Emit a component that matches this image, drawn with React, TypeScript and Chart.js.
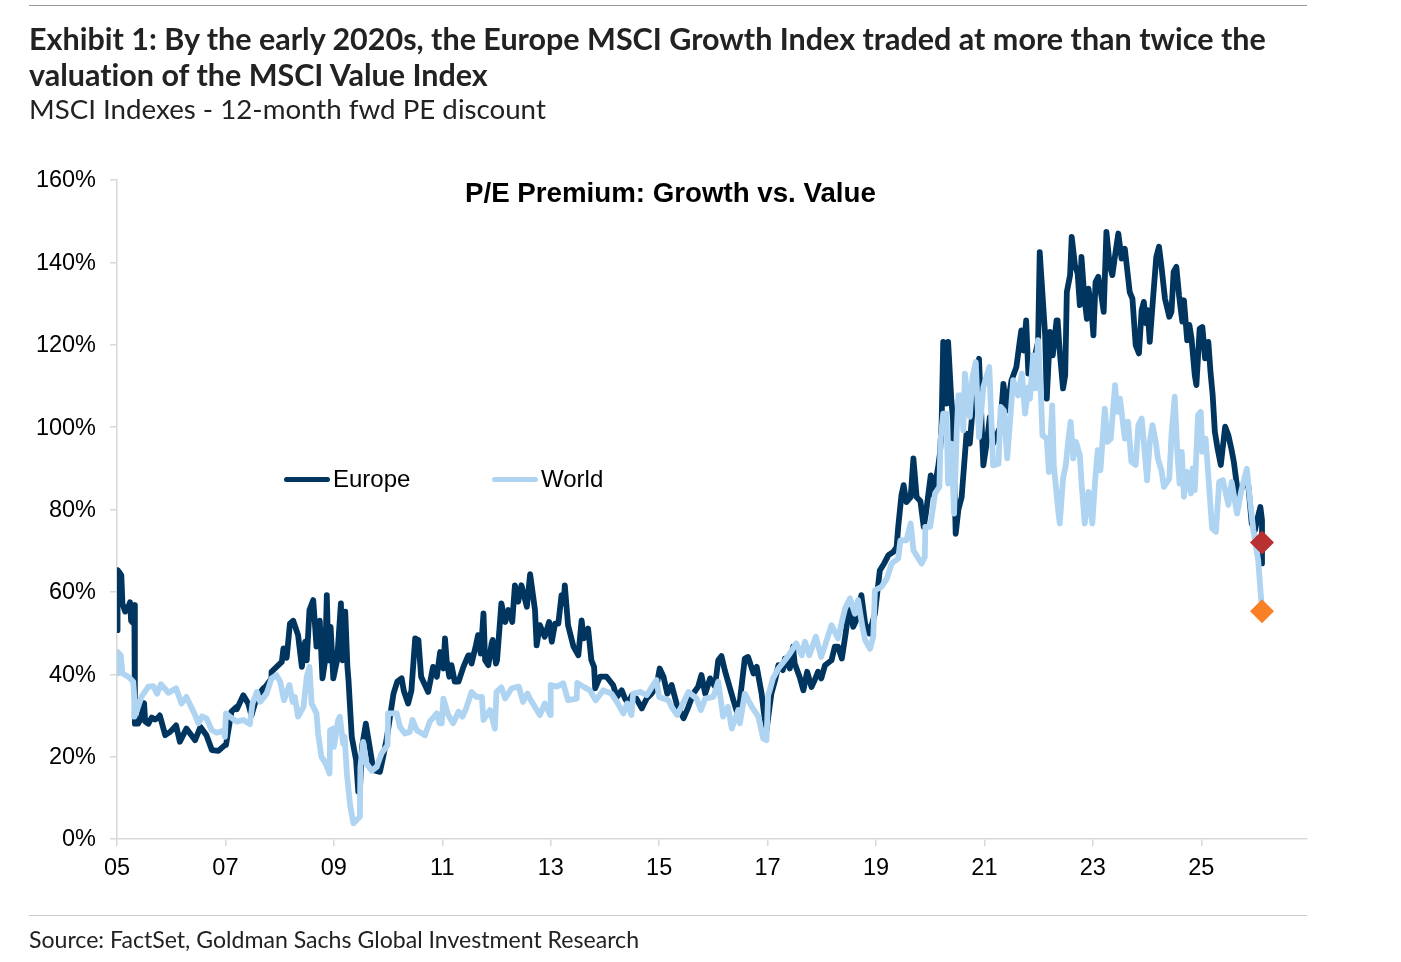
import { useEffect, useRef } from 'react';
import { Chart, registerables } from 'chart.js';

Chart.register(...registerables);

// x is in years since 2000, y is the premium in percent
const europeYears = [
  5.01, 5.01, 5.04, 5.08, 5.1, 5.15, 5.2, 5.24, 5.26, 5.29, 5.32, 5.33, 5.33, 5.39, 5.43, 5.47, 5.5, 5.52, 5.58, 5.64,
  5.7, 5.76, 5.79, 5.89, 5.98, 6.09, 6.16, 6.28, 6.44, 6.54, 6.65, 6.75, 6.87, 6.99, 7.01,
  7.11, 7.2, 7.21, 7.33, 7.42, 7.48, 7.58, 7.7, 7.74, 7.85, 7.85, 8.04, 8.07, 8.13, 8.19, 8.25, 8.34, 8.41, 8.47, 8.5, 8.55,
  8.62, 8.68, 8.74, 8.79, 8.84, 8.87, 8.9, 8.94, 8.99, 9.06, 9.13, 9.16, 9.21, 9.25, 9.27, 9.33, 9.41, 9.45, 9.48, 9.52,
  9.59, 9.64, 9.73, 9.85, 9.91, 9.97, 9.99, 10.1, 10.17, 10.25, 10.29, 10.37, 10.43, 10.5, 10.56, 10.61, 10.74, 10.83, 10.9,
  10.96, 11.02, 11.05, 11.08, 11.13, 11.17, 11.23, 11.3, 11.39, 11.48, 11.51, 11.54, 11.62, 11.66, 11.71, 11.76, 11.79, 11.85,
  11.91, 11.93, 11.99, 12.01, 12.09, 12.16, 12.22, 12.29, 12.34, 12.4, 12.46, 12.56, 12.62, 12.71, 12.74, 12.8, 12.89, 12.97,
  13.02, 13.08, 13.14, 13.2, 13.24, 13.26, 13.32, 13.42, 13.51, 13.57, 13.61, 13.69, 13.75, 13.8, 13.82, 13.91, 14.03, 14.15,
  14.22, 14.31, 14.37, 14.43, 14.5, 14.58, 14.68, 14.77, 14.86, 14.95, 15.01, 15.08, 15.15, 15.23, 15.33, 15.45, 15.54, 15.63,
  15.72, 15.78, 15.85, 15.94, 16.03, 16.09, 16.15, 16.21, 16.37, 16.46, 16.49, 16.58, 16.64, 16.74, 16.8, 16.89, 16.93, 16.98,
  17.07, 17.14, 17.2, 17.28, 17.32, 17.41, 17.47, 17.5, 17.6, 17.66, 17.73, 17.81, 17.87, 17.93, 17.99, 18.06, 18.18, 18.24,
  18.3, 18.37, 18.44, 18.51, 18.58, 18.65, 18.73, 18.8, 18.88, 18.92, 18.98, 19.07, 19.15, 19.23, 19.32, 19.38, 19.41, 19.47,
  19.51, 19.56, 19.64, 19.69, 19.75, 19.82, 19.88, 19.92, 20.01, 20.06, 20.15, 20.18, 20.21, 20.24, 20.3, 20.33, 20.39, 20.42,
  20.47, 20.52, 20.58, 20.67, 20.73, 20.76, 20.84, 20.9, 20.98, 21.04, 21.1, 21.16, 21.29, 21.35, 21.41, 21.5, 21.59, 21.65,
  21.68, 21.72, 21.77, 21.81,
  21.87, 21.99, 22.02, 22.12, 22.15, 22.18, 22.21, 22.26, 22.33, 22.35,
  22.39, 22.45, 22.49, 22.52, 22.58, 22.61, 22.67, 22.72, 22.76, 22.79,
  22.84, 22.89, 22.92, 22.98, 23.01, 23.05, 23.1, 23.17, 23.2, 23.25,
  23.31, 23.36, 23.41, 23.47, 23.53, 23.59, 23.68, 23.73, 23.79, 23.85,
  23.9, 23.94, 23.98, 24.01, 24.05, 24.11, 24.17, 24.22, 24.27, 24.33,
  24.41, 24.45, 24.49, 24.54, 24.59, 24.65, 24.68, 24.74, 24.78, 24.82,
  24.88, 24.91, 24.97, 25.02, 25.07, 25.13, 25.17, 25.21, 25.25, 25.3,
  25.36, 25.44, 25.5, 25.56, 25.6, 25.68, 25.74, 25.8, 25.87, 25.93,
  25.99, 26.03, 26.09, 26.12, 26.12,
];
const europeValues = [
  50.7, 65.3, 64.8, 64, 57.2, 55.2, 56, 57.5, 53, 52.5, 56.8, 39.4, 28, 28, 29, 31, 33, 28.5, 28, 29.5,
  29, 29.5, 30, 25.2, 26, 27.6, 23.6, 26.8, 24, 27.2, 25.2, 21.6, 21.4, 22.8, 22.8,
  30.9, 32, 31.5, 34.9, 32.9, 30, 34.5, 36.6, 37, 39, 40.6, 43, 46.3, 44, 52.3, 53, 49.5, 41.8, 47.9, 43.4, 55.6, 58,
  46.7, 53, 39, 43.4, 59.2, 43.4, 51.5, 39, 43.4, 57.2, 43.4, 55.2, 41.8, 38.6, 24.8, 19.2, 11.5, 11.9, 22.4, 28,
  24, 16.7, 16.3, 20, 24, 25.6, 35.3, 38.2, 39, 36, 32.9, 36, 48.7, 48.3, 39.4, 35.7, 41.8, 39.4, 45.4,
  41.4, 48.7, 43.4, 39.4, 42.2, 38.2, 38.2, 41.8, 44.6, 44.6, 42.6, 47, 49.5, 45, 54.8, 43.4, 42.2, 47.5,
  48.3, 42.6, 43.4, 57.2, 52.7, 55.6, 52.7, 61.6, 57.6, 61.6, 56.4, 64.3, 55.6, 47, 51.9, 49.1, 52.7, 47.9,
  52.3, 52.3, 59.2, 57.2, 61.6, 51.9, 46.7, 44.6, 53.1, 48.7, 51.1, 43.4, 41.8, 36.6, 39.4, 39.4, 37.4, 34.5,
  36.1, 34.1, 32.9, 34.9, 34.1, 31.7, 34.1, 35.3, 37, 41.4, 39.4, 35.3, 37.4, 32.5, 29.3, 32.1, 35.3, 37,
  39.8, 35.3, 39, 37, 43.4, 44.4, 41, 33.7, 29.7, 33.7, 43.8, 44.2, 40.2, 41.8, 35.3, 30.9, 26.4, 35.3,
  38.6, 42.2, 41, 43.8, 41.4, 46.7, 42.6, 39, 36.1, 40.6, 36.9, 38.6, 40.6, 39, 42.2, 43.4, 46.7, 46.7,
  43.8, 49.9, 56.8, 51.5, 53.5, 59.2, 52.3, 49.9, 51.9, 54.7, 65.2, 66.9, 68.9, 69.7, 70.9, 75.8, 83.5, 85.9,
  81.8, 83, 92.4, 83, 82, 75.8, 79, 88.3, 83.5, 90.7, 93.6, 100.8, 120.7, 105.7, 120.7, 106.5, 102, 74.1,
  80, 83, 98.4, 96, 100.8, 113, 116.6, 90.7, 96, 102.5, 96, 100, 110.5, 104, 111.4, 114.6, 120.7, 123.5,
  118.6, 125.9, 113, 113.8,
  120.7, 142.5, 122.3, 106.9, 115, 123.1, 117.4, 125.9, 125.9, 118.3,
  109.4, 112.6, 132.8, 136.9, 146.2, 139.3, 137.3, 129.6, 141.3, 132,
  126.3, 133.6, 127.6, 122.3, 135.2, 136.5, 130.8, 128, 147.4, 139.3,
  136.9, 141.7, 147, 140.9, 143.3, 132.8, 131.2, 119.9, 117.9, 128.4,
  130.4, 125.2, 128.4, 120.7, 131.2, 141.3, 143.8, 138.5, 131.2, 126.8,
  128, 137.7, 138.9, 132, 125.6, 130.8, 121.1, 124.8, 121.5, 112.6,
  110.2, 123.9, 124.3, 116.7, 120.7, 113.4, 107.8, 98.9, 94.8, 90.8,
  100.1, 98, 94.4, 91.6, 83.5, 85, 86.7, 85.5, 76.6, 75,
  77.4, 80.6, 77.4, 66.9, 72,
];

const worldYears = [
  5.01, 5.01, 5.07, 5.1, 5.21, 5.3, 5.33, 5.32, 5.39, 5.45, 5.58, 5.67, 5.74, 5.81, 5.95, 6.09, 6.19, 6.28, 6.44, 6.5,
  6.57, 6.65, 6.75, 6.84, 6.96, 6.99, 7.01, 7.08, 7.21, 7.33, 7.45, 7.5, 7.58, 7.64, 7.76, 7.85, 7.94, 8.01, 8.08, 8.18,
  8.24, 8.28, 8.34, 8.44, 8.5, 8.55, 8.59, 8.68, 8.71, 8.77, 8.85, 8.92, 8.93, 8.99, 9.0, 9.08, 9.11, 9.17, 9.2, 9.24,
  9.3, 9.36, 9.48, 9.49, 9.54, 9.6, 9.7, 9.79, 9.88, 9.99, 10.0, 10.16, 10.22, 10.31, 10.4, 10.45, 10.53, 10.68, 10.77, 10.9,
  10.95, 10.99, 11.02, 11.11, 11.2, 11.3, 11.37, 11.44, 11.54, 11.63, 11.73, 11.76, 11.88, 11.97, 12.0, 12.09, 12.16, 12.28, 12.41, 12.49,
  12.57, 12.65, 12.8, 12.89, 12.99, 13.0, 13.11, 13.23, 13.32, 13.48, 13.49, 13.6, 13.72, 13.83, 13.97, 14.12, 14.22, 14.34, 14.41, 14.49,
  14.52, 14.65, 14.77, 14.95, 15.0, 15.17, 15.23, 15.33, 15.41, 15.54, 15.69, 15.77, 15.85, 16.0, 16.09, 16.18, 16.27, 16.34, 16.46, 16.49,
  16.58, 16.71, 16.83, 16.92, 16.98, 17.01, 17.04, 17.1, 17.2, 17.32, 17.41, 17.53, 17.63, 17.69, 17.77, 17.89, 17.99, 18.06, 18.18, 18.3,
  18.37, 18.43, 18.52, 18.61, 18.67, 18.75, 18.8, 18.89, 18.95, 18.98, 19.1, 19.2, 19.29, 19.41, 19.45, 19.56, 19.64, 19.69, 19.84, 19.9,
  19.91, 20.0, 20.09, 20.17, 20.19, 20.24, 20.3, 20.33, 20.39, 20.44, 20.49, 20.52, 20.58, 20.61, 20.64, 20.73, 20.78, 20.84, 20.9, 20.98,
  21.09, 21.16, 21.26, 21.3, 21.36, 21.42, 21.53, 21.62, 21.69, 21.75, 21.81,
  21.84, 21.9, 21.94, 21.99, 22.05, 22.07, 22.15, 22.19, 22.25, 22.28,
  22.36, 22.39, 22.45, 22.5, 22.55, 22.59, 22.64, 22.69, 22.76, 22.79,
  22.85, 22.92, 22.99, 23.04, 23.09, 23.14, 23.22, 23.27, 23.33, 23.41,
  23.45, 23.5, 23.59, 23.65, 23.71, 23.79, 23.84, 23.9, 23.94, 24,
  24.05, 24.1, 24.16, 24.2, 24.27, 24.31, 24.41, 24.45, 24.51, 24.56,
  24.6, 24.64, 24.68, 24.73, 24.81, 24.84, 24.88, 24.94, 24.99, 25.02,
  25.08, 25.16, 25.2, 25.27, 25.33, 25.4, 25.5, 25.56, 25.66, 25.74,
  25.84, 25.9, 25.96, 26.05, 26.12,
];
const worldValues = [
  40.2, 45.4, 44.6, 40.2, 39.4, 38.2, 32.1, 29.7, 32.1, 34.5, 37, 37.1, 35.3, 37.6, 35.5, 36.6, 32.9, 34.5, 30.1, 28.1,
  29.8, 29.3, 26.4, 25.8, 26.3, 24.8, 30.5, 29.7, 28.5, 28.9, 27.9, 32.9, 35.7, 33.3, 35.3, 39, 39.8, 38.2, 33.7, 37.4,
  33.3, 34.5, 29.7, 32.1, 39.4, 41.8, 32.9, 30.5, 25.6, 20, 18.3, 15.9, 26.4, 26.8, 22.4, 28.9, 29.7, 23.2, 24.8, 15.9,
  8.2, 3.8, 5.4, 17.5, 23.6, 18.3, 16.6, 17.5, 20.8, 22.8, 30.5, 30.5, 27.2, 25.6, 26, 28.9, 26.4, 25.2, 28.5, 30.5,
  28.1, 28.1, 34.1, 30.1, 28.1, 30.9, 29.7, 31.7, 35.7, 34.5, 34.5, 28.9, 31.3, 26.8, 35.7, 36.8, 34.1, 36.6, 37, 33.3,
  35.3, 33.3, 30.1, 32.9, 30.1, 37.4, 37, 37.8, 33.7, 34.1, 37.9, 37, 36.1, 33.7, 36.1, 35.3, 33.3, 30.5, 32.9, 30.1,
  35.3, 35.7, 34.9, 38.6, 34.5, 33.7, 32.1, 30.1, 32.1, 35.7, 34.1, 31.3, 34.1, 34.5, 38.2, 29.7, 32.1, 26.8, 31.3, 28.1,
  35.3, 32.1, 29.7, 24.4, 24, 34.9, 36.1, 39, 41.4, 43.4, 45, 47.5, 44.6, 47.9, 44.6, 49.1, 44.2, 47, 51.9, 48.7,
  52.7, 56, 58.4, 54.7, 58, 51.5, 48.3, 46.2, 49.1, 60.4, 61.2, 63.2, 66.9, 68.1, 72.5, 72.5, 76.6, 70.1, 66.9, 68.5,
  75.8, 75.8, 83.9, 85.5, 96.8, 103.3, 103.3, 86.3, 96, 79, 99.2, 107.7, 107.7, 99.2, 113, 102.5, 112.2, 115.8, 97.6, 109.7,
  114.6, 90.7, 91.1, 104.9, 104, 92.4, 111.4, 107.7, 113, 103.3, 109.7,
  106.9, 117.4, 109.4, 121.1, 105.3, 98, 97.2, 89.1, 105.3, 90.7,
  79.8, 76.6, 87.5, 90.7, 97.2, 101.3, 92.4, 96.4, 93.2, 86.7,
  76.6, 84.3, 76.6, 86.7, 94.4, 89.5, 104.5, 96.4, 97.2, 110.2,
  103.7, 106.9, 97.2, 101.3, 91.6, 90.8, 100.5, 102.1, 96.4, 87.1,
  96.4, 100.5, 96.4, 92.4, 89.2, 85.5, 87.5, 98, 107.4, 93.2,
  86.3, 94, 83.1, 89.2, 83.9, 90, 84.7, 102.9, 103.7, 94,
  97.2, 82.7, 75.4, 74.6, 86.7, 87.1, 81.1, 86.7, 79, 84.7,
  89.9, 82.2, 75, 67.7, 55.5,
];

const lastYear = [26.12];
const europeLast = [72];
const worldLast = [55.3];

const xTickYears = [5, 7, 9, 11, 13, 15, 17, 19, 21, 23, 25];
const xTickLabels = ['05', '07', '09', '11', '13', '15', '17', '19', '21', '23', '25'];
const yTicks = [0, 20, 40, 60, 80, 100, 120, 140, 160];

const navy = '#00355F';
const sky = '#AED4F2';
const axisGrey = '#D9D9D9';
const arial = '"Liberation Sans", Arial, sans-serif';
const headingFont = 'Lato, "Noto Sans", sans-serif';

const points = (xs: number[], ys: number[]) => xs.map((x, i) => ({ x, y: ys[i] }));

const App = () => {
  const canvasRef = useRef<HTMLCanvasElement>(null);

  useEffect(() => {
    if (!canvasRef.current) return;
    const chart = new Chart(canvasRef.current, {
      type: 'line',
      data: {
        datasets: [
          {
            label: 'Europe last',
            data: points(lastYear, europeLast),
            showLine: false,
            pointStyle: 'rectRot',
            pointRadius: 12,
            pointBackgroundColor: '#B93033',
            pointBorderWidth: 0,
            order: 0,
          },
          {
            label: 'World last',
            data: points(lastYear, worldLast),
            showLine: false,
            pointStyle: 'rectRot',
            pointRadius: 12,
            pointBackgroundColor: '#F98024',
            pointBorderWidth: 0,
            order: 0,
          },
          {
            label: 'World',
            data: points(worldYears, worldValues),
            borderColor: sky,
            borderWidth: 5.8,
            borderJoinStyle: 'round',
            borderCapStyle: 'round',
            pointRadius: 0,
            order: 1,
          },
          {
            label: 'Europe',
            data: points(europeYears, europeValues),
            borderColor: navy,
            borderWidth: 5.8,
            borderJoinStyle: 'round',
            borderCapStyle: 'round',
            pointRadius: 0,
            order: 2,
          },
        ],
      },
      options: {
        animation: false,
        responsive: false,
        devicePixelRatio: 1,
        layout: { padding: { left: 0, right: 94, top: 180, bottom: 0 } },
        plugins: {
          legend: { display: false },
          tooltip: { enabled: false },
        },
        scales: {
          x: {
            type: 'linear',
            min: 5,
            max: 26.95,
            afterBuildTicks: (scale) => {
              scale.ticks = xTickYears.map((value) => ({ value }));
            },
            afterFit: (scale) => {
              scale.height = 123;
            },
            grid: { drawOnChartArea: false, color: axisGrey, lineWidth: 1.5, tickLength: 7 },
            border: { color: axisGrey, width: 1.5 },
            ticks: {
              autoSkip: false,
              maxRotation: 0,
              padding: 8,
              color: '#000',
              font: { family: arial, size: 23.5 },
              callback: (value) => xTickLabels[xTickYears.indexOf(Number(value))],
            },
          },
          y: {
            min: 0,
            max: 160,
            afterBuildTicks: (scale) => {
              scale.ticks = yTicks.map((value) => ({ value }));
            },
            afterFit: (scale) => {
              scale.width = 117;
            },
            grid: { drawOnChartArea: false, color: axisGrey, lineWidth: 1.5, tickLength: 7 },
            border: { color: axisGrey, width: 1.5 },
            ticks: {
              padding: 14,
              labelOffset: 1,
              color: '#000',
              font: { family: arial, size: 23.5 },
              callback: (value) => `${value}%`,
            },
          },
        },
      },
    });
    return () => chart.destroy();
  }, []);

  const text = (top: number, left: number, size: number, extra = {}) => ({
    position: 'absolute' as const,
    top,
    left,
    fontSize: size,
    lineHeight: 1,
    whiteSpace: 'nowrap' as const,
    fontVariantLigatures: 'none',
    ...extra,
  });
  const legendLine = (left: number, color: string) => ({
    position: 'absolute' as const,
    top: 476.5,
    left,
    width: 46,
    height: 5,
    borderRadius: 3,
    background: color,
  });

  return (
    <div style={{ position: 'absolute', left: 0, top: 0, width: 1401, height: 962, background: '#fff', overflow: 'hidden', color: '#000' }}>
      <canvas ref={canvasRef} width={1401} height={962} style={{ position: 'absolute', left: 0, top: 0 }} />
      <div style={{ position: 'absolute', left: 29, top: 5, width: 1278, height: 1, background: '#999' }} />
      <div style={{ position: 'absolute', left: 29, top: 915, width: 1278, height: 1, background: '#ccc' }} />
      <div style={text(23, 29, 30.5, { fontFamily: headingFont, fontWeight: 700, color: '#222' })}>
        Exhibit 1: By the early 2020s, the Europe MSCI Growth Index traded at more than twice the
      </div>
      <div style={text(59, 29, 30.5, { fontFamily: headingFont, fontWeight: 700, color: '#222' })}>
        valuation of the MSCI Value Index
      </div>
      <div style={text(94.5, 29, 27.7, { fontFamily: headingFont, color: '#222' })}>
        MSCI Indexes - 12-month fwd PE discount
      </div>
      <div style={text(179, 465, 27.7, { fontFamily: arial, fontWeight: 700 })}>P/E Premium: Growth vs. Value</div>
      <div style={legendLine(284, navy)} />
      <div style={text(467, 333, 24, { fontFamily: arial })}>Europe</div>
      <div style={legendLine(492, sky)} />
      <div style={text(467, 541, 24, { fontFamily: arial })}>World</div>
      <div style={text(928, 29, 23.1, { fontFamily: headingFont, color: '#222' })}>
        Source: FactSet, Goldman Sachs Global Investment Research
      </div>
    </div>
  );
};

export default App;
